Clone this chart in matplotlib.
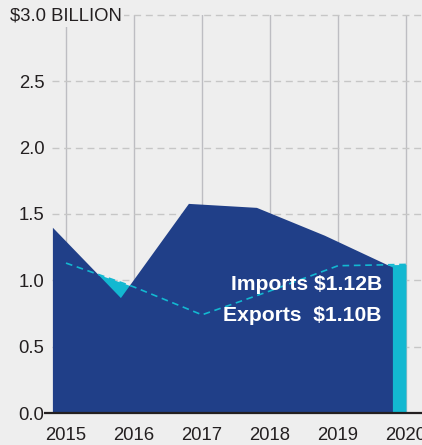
import numpy as np
import matplotlib
matplotlib.use('Agg')
import matplotlib.pyplot as plt

# trade values, billions of dollars
years = np.array([2015, 2016, 2017, 2018, 2019, 2020])
imports = np.array([1.13, 0.95, 0.74, 0.92, 1.11, 1.12])
exports = np.array([1.40, 0.87, 1.58, 1.55, 1.34, 1.10])
y_ticks = [0.0, 0.5, 1.0, 1.5, 2.0, 2.5, 3.0]
y_labels = ['0.0', '0.5', '1.0', '1.5', '2.0', '2.5', '']

# exports area sits a bit ahead of the year marks
export_shift = -0.2

bg = '#eeeeee'
navy = '#203f88'
cyan = '#13b8d1'
ink = '#231f20'

plt.rcParams['font.family'] = ['Liberation Sans', 'DejaVu Sans']

fig = plt.figure(figsize=(4.22, 4.45), dpi=100, facecolor=bg)
ax = fig.add_axes([52.4 / 422, 32 / 445, 377.4 / 422, 398 / 445], facecolor=bg)

ax.fill_between(years, imports, 0, color=cyan, lw=0, zorder=2)
ax.fill_between(years + export_shift, exports, 0, color=navy, lw=0, zorder=3)
ax.plot(years, imports, color=cyan, lw=1.2, dashes=(4, 2.8), zorder=4)

ax.set_xlim(2014.8, 2020.35)
ax.set_ylim(0, 3.0)

ax.set_xticks(years)
ax.set_xticklabels([str(y) for y in years])
ax.set_yticks(y_ticks)
ax.set_yticklabels(y_labels)
ax.tick_params(axis='both', length=0, labelsize=13.3, colors=ink)
ax.tick_params(axis='y', pad=5.8)
ax.tick_params(axis='x', pad=10)

for s in ax.spines.values():
    s.set_visible(False)

# grid: solid verticals, dashed horizontals
for y in years:
    ax.axvline(y, color='#bdbdc2', lw=1.0, zorder=1)
for v in y_ticks[1:]:
    ax.plot([0, 1.2], [v, v], transform=ax.get_yaxis_transform(), color='#c6c6c6',
            lw=1.0, dashes=(5, 3.4), zorder=1, clip_on=False)

# baseline with the zero tick
ax.plot([-0.021, 1.2], [0, 0], transform=ax.get_yaxis_transform(), color=ink,
        lw=1.6, zorder=5, clip_on=False, solid_capstyle='butt')

fig.text(10 / 422, 1 - 16 / 445, '$3.0 BILLION', fontsize=13.3, color=ink,
         ha='left', va='center',
         bbox=dict(boxstyle='square,pad=0.12', facecolor=bg, edgecolor='none'))

ax.text(2019.647, 0.972, 'Imports $1.12B', color='white', fontsize=15.2,
        fontweight='bold', ha='right', va='center', zorder=6)
ax.text(2019.647, 0.738, 'Exports  $1.10B', color='white', fontsize=15.2,
        fontweight='bold', ha='right', va='center', zorder=6)

fig.savefig('out.png', dpi=100, facecolor=bg)
